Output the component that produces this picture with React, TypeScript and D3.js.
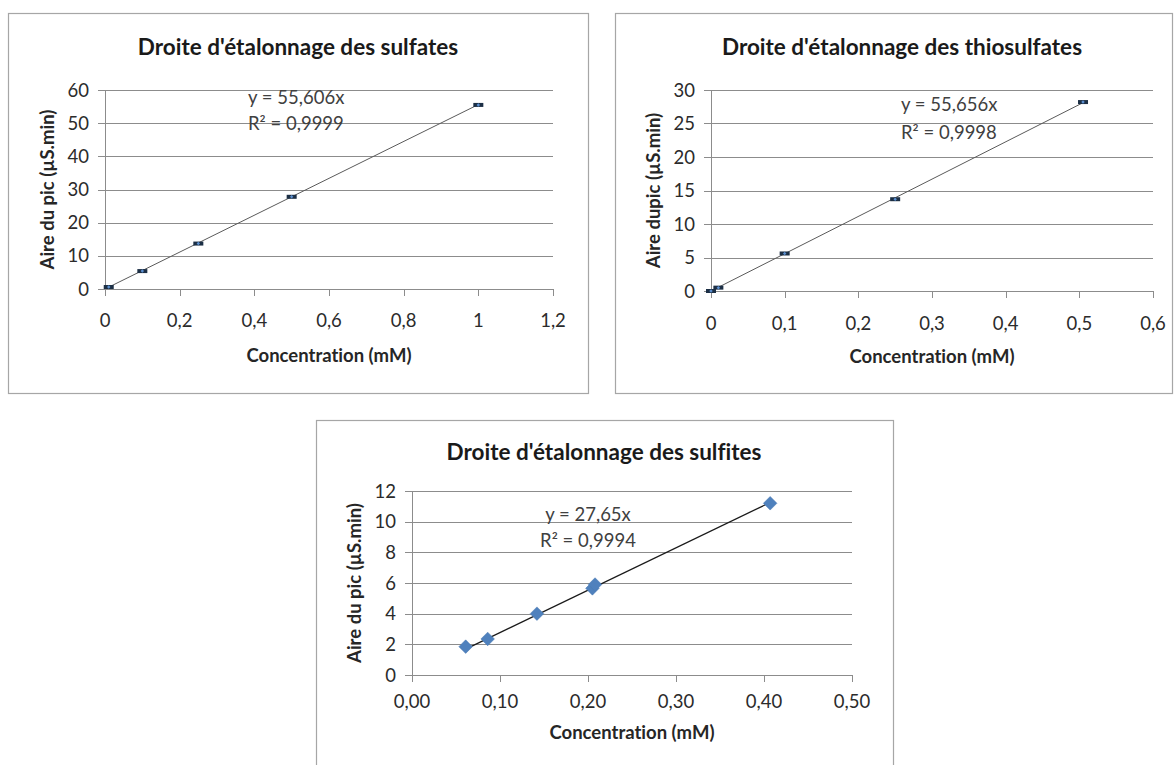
import React, { useEffect, useRef } from 'react';
import * as d3 from 'd3';

// Droite d'étalonnage des sulfates
const sulfateConc = [0.01, 0.1, 0.25, 0.5, 1.0];
const sulfateArea = [0.6, 5.4, 13.7, 27.8, 55.5];
const sulfateXTicks = [0, 0.2, 0.4, 0.6, 0.8, 1, 1.2];
const sulfateYTicks = [0, 10, 20, 30, 40, 50, 60];

// Droite d'étalonnage des thiosulfates
const thioConc = [0, 0.01, 0.1, 0.25, 0.505];
const thioArea = [0, 0.5, 5.6, 13.7, 28.2];
const thioXTicks = [0, 0.1, 0.2, 0.3, 0.4, 0.5, 0.6];
const thioYTicks = [0, 5, 10, 15, 20, 25, 30];

// Droite d'étalonnage des sulfites
const sulfiteConc = [0.061, 0.086, 0.142, 0.205, 0.208, 0.407];
const sulfiteArea = [1.85, 2.35, 4.0, 5.65, 5.9, 11.2];
const sulfiteXTicks = [0, 0.1, 0.2, 0.3, 0.4, 0.5];
const sulfiteYTicks = [0, 2, 4, 6, 8, 10, 12];

const slopes = [55.606, 55.656, 27.65];
const equations = ['y = 55,606x', 'y = 55,656x', 'y = 27,65x'];
const r2Labels = ['R² = 0,9999', 'R² = 0,9998', 'R² = 0,9994'];

const fr = d3.formatLocale({ decimal: ',', thousands: ' ', grouping: [3], currency: ['', ' €'] });
const FONT = 'Lato, "Open Sans", sans-serif';

interface ChartProps {
  title: string;
  yTitle: string;
  xs: number[];
  ys: number[];
  xTicks: number[];
  yTicks: number[];
  xFormat: string;
  slope: number;
  eq: string;
  r2: string;
  box: { x: number; y: number; w: number; h: number };
  plot: { left: number; right: number; top: number; bottom: number };
  titleX: number;
  titleY: number;
  eqPos: { x: number; y: number; anchor: string; gap: number };
  bigMarkers: boolean;
  lineColor: string;
  xLabelY: number;
  xTitleY: number;
}

const CalibrationChart: React.FC<ChartProps> = (p) => {
  const gRef = useRef<SVGGElement>(null);

  useEffect(() => {
    if (!gRef.current) return;
    const g = d3.select(gRef.current);
    g.selectAll('*').remove();

    const x = d3
      .scaleLinear()
      .domain([p.xTicks[0], p.xTicks[p.xTicks.length - 1]])
      .range([p.plot.left, p.plot.right]);
    const y = d3
      .scaleLinear()
      .domain([p.yTicks[0], p.yTicks[p.yTicks.length - 1]])
      .range([p.plot.bottom, p.plot.top]);

    // frame
    g.append('rect')
      .attr('x', p.box.x + 0.5)
      .attr('y', p.box.y + 0.5)
      .attr('width', p.box.w)
      .attr('height', p.box.h)
      .attr('fill', '#fff')
      .attr('stroke', '#a6a6a6')
      .attr('stroke-width', 1.2);

    g.append('text')
      .attr('x', p.titleX)
      .attr('y', p.titleY)
      .attr('text-anchor', 'middle')
      .attr('font-weight', 'bold')
      .attr('font-size', 22.5)
      .attr('fill', '#1a1a1a')
      .text(p.title);

    // gridlines + y ticks
    g.selectAll('.grid')
      .data(p.yTicks)
      .join('line')
      .attr('x1', p.plot.left - 7)
      .attr('x2', p.plot.right)
      .attr('y1', (d) => Math.round(y(d)) + 0.5)
      .attr('y2', (d) => Math.round(y(d)) + 0.5)
      .attr('stroke', '#8c8c8c')
      .attr('stroke-width', 1);

    g.selectAll('.ylab')
      .data(p.yTicks)
      .join('text')
      .attr('x', p.plot.left - 16)
      .attr('y', (d) => y(d) + 6.5)
      .attr('text-anchor', 'end')
      .attr('font-size', 18.5)
      .attr('fill', '#2b2b2b')
      .text((d) => fr.format('d')(d));

    // y axis line
    g.append('line')
      .attr('x1', Math.round(p.plot.left) + 0.5)
      .attr('x2', Math.round(p.plot.left) + 0.5)
      .attr('y1', p.plot.top)
      .attr('y2', p.plot.bottom)
      .attr('stroke', '#8c8c8c');

    // x ticks
    g.selectAll('.xtick')
      .data(p.xTicks)
      .join('line')
      .attr('x1', (d) => Math.round(x(d)) + 0.5)
      .attr('x2', (d) => Math.round(x(d)) + 0.5)
      .attr('y1', p.plot.bottom)
      .attr('y2', p.plot.bottom + 7)
      .attr('stroke', '#8c8c8c');

    g.selectAll('.xlab')
      .data(p.xTicks)
      .join('text')
      .attr('x', (d) => x(d))
      .attr('y', p.xLabelY)
      .attr('text-anchor', 'middle')
      .attr('font-size', 18.5)
      .attr('fill', '#2b2b2b')
      .text((d) => fr.format(p.xFormat)(d));

    g.append('text')
      .attr('x', (p.plot.left + p.plot.right) / 2)
      .attr('y', p.xTitleY)
      .attr('text-anchor', 'middle')
      .attr('font-weight', 'bold')
      .attr('font-size', 18.5)
      .attr('fill', '#262626')
      .text('Concentration (mM)');

    g.append('text')
      .attr('transform', `translate(${p.plot.left - 51},${(p.plot.top + p.plot.bottom) / 2}) rotate(-90)`)
      .attr('text-anchor', 'middle')
      .attr('font-weight', 'bold')
      .attr('font-size', 18.5)
      .attr('fill', '#262626')
      .text(p.yTitle);

    // trendline (y = slope·x)
    const xExt = d3.extent(p.xs) as [number, number];
    const line = d3
      .line<number>()
      .x((d) => x(d))
      .y((d) => y(p.slope * d));
    g.append('path')
      .datum(xExt)
      .attr('fill', 'none')
      .attr('stroke', p.lineColor)
      .attr('stroke-width', p.bigMarkers ? 1.3 : 1)
      .attr('d', line as any);

    // markers
    const pts = p.xs.map((v, i) => [v, p.ys[i]] as [number, number]);
    if (p.bigMarkers) {
      g.selectAll('.pt')
        .data(pts)
        .join('path')
        .attr('transform', (d) => `translate(${x(d[0])},${y(d[1])}) rotate(45)`)
        .attr('d', d3.symbol(d3.symbolSquare, 92) as any)
        .attr('fill', '#4f81bd')
        .attr('stroke', '#4a7ab3')
        .attr('stroke-width', 0.5);
    } else {
      g.selectAll('.bar')
        .data(pts)
        .join('rect')
        .attr('x', (d) => x(d[0]) - 5)
        .attr('y', (d) => y(d[1]) - 2)
        .attr('width', 10)
        .attr('height', 4)
        .attr('fill', '#1c2f45');
      g.selectAll('.pt')
        .data(pts)
        .join('path')
        .attr('transform', (d) => `translate(${x(d[0])},${y(d[1])}) rotate(45)`)
        .attr('d', d3.symbol(d3.symbolSquare, 6) as any)
        .attr('fill', '#5b8fd0');
    }

    // equation
    const eq = g
      .append('text')
      .attr('font-size', 18.5)
      .attr('fill', '#404040')
      .attr('text-anchor', p.eqPos.anchor);
    eq.append('tspan').attr('x', p.eqPos.x).attr('y', p.eqPos.y).text(p.eq);
    eq.append('tspan').attr('x', p.eqPos.x).attr('y', p.eqPos.y + p.eqPos.gap).text(p.r2);
  }, [p]);

  return <g ref={gRef} style={{ fontFamily: FONT, fontVariantLigatures: 'none' }}></g>;
};

const App: React.FC = () => {
  return (
    <svg
      width={1175}
      height={765}
      style={{ position: 'absolute', left: 0, top: 0, background: '#fff' }}
    >
      <rect width={1175} height={765} fill="#fff" />
      <CalibrationChart
        title="Droite d'étalonnage des sulfates"
        yTitle="Aire du pic (µS.min)"
        xs={sulfateConc}
        ys={sulfateArea}
        xTicks={sulfateXTicks}
        yTicks={sulfateYTicks}
        xFormat=".1~f"
        slope={slopes[0]}
        eq={equations[0]}
        r2={r2Labels[0]}
        box={{ x: 8, y: 13, w: 580, h: 380 }}
        plot={{ left: 105, right: 553, top: 90, bottom: 289 }}
        titleX={298}
        titleY={55}
        eqPos={{ x: 248, y: 103.5, anchor: 'start', gap: 26 }}
        bigMarkers={false}
        lineColor="#5a5a5a"
        xLabelY={326.5}
        xTitleY={362}
      />
      <CalibrationChart
        title="Droite d'étalonnage des thiosulfates"
        yTitle="Aire dupic (µS.min)"
        xs={thioConc}
        ys={thioArea}
        xTicks={thioXTicks}
        yTicks={thioYTicks}
        xFormat=".1~f"
        slope={slopes[1]}
        eq={equations[1]}
        r2={r2Labels[1]}
        box={{ x: 615, y: 13, w: 557, h: 380 }}
        plot={{ left: 711, right: 1153, top: 90, bottom: 291 }}
        titleX={902}
        titleY={55}
        eqPos={{ x: 901, y: 111, anchor: 'start', gap: 28 }}
        bigMarkers={false}
        lineColor="#5a5a5a"
        xLabelY={329.5}
        xTitleY={363}
      />
      <CalibrationChart
        title="Droite d'étalonnage des sulfites"
        yTitle="Aire du pic (µS.min)"
        xs={sulfiteConc}
        ys={sulfiteArea}
        xTicks={sulfiteXTicks}
        yTicks={sulfiteYTicks}
        xFormat=".2f"
        slope={slopes[2]}
        eq={equations[2]}
        r2={r2Labels[2]}
        box={{ x: 316, y: 420, w: 577, h: 360 }}
        plot={{ left: 412, right: 852, top: 491, bottom: 675 }}
        titleX={604}
        titleY={460}
        eqPos={{ x: 588, y: 521, anchor: 'middle', gap: 26 }}
        bigMarkers={true}
        lineColor="#1a1a1a"
        xLabelY={707.5}
        xTitleY={739}
      />
    </svg>
  );
};

export default App;
